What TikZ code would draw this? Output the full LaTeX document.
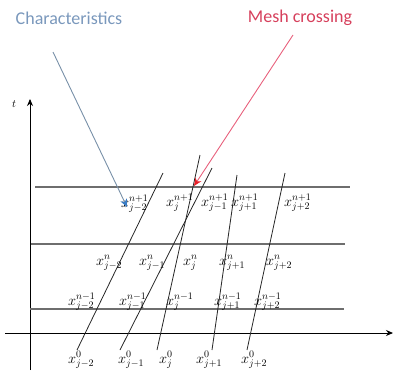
\documentclass[tikz,border=0pt]{standalone}
\usepackage{fontspec}
\newfontfamily\calib{Carlito}
\usetikzlibrary{arrows.meta}
\definecolor{chartext}{HTML}{7A98BC}
\definecolor{charline}{HTML}{7890A8}
\definecolor{charhead}{HTML}{3A7CC4}
\definecolor{meshtext}{HTML}{D6405C}
\definecolor{meshline}{HTML}{E8607C}
\definecolor{meshhead}{HTML}{E82028}
\definecolor{gridgray}{HTML}{6E6E6E}
\tikzset{
  lbl/.style={anchor=base west, inner sep=0pt, font=\fontsize{14}{16}\selectfont},
  title/.style={inner sep=0pt, font=\calib\fontsize{18}{20}\selectfont},
  axisline/.style={draw=black, line width=0.9pt, -{Stealth[length=7pt,width=6pt]}},
  gridline/.style={draw=gridgray, line width=1.2pt},
  charline/.style={draw=black!85, line width=0.8pt},
}
\begin{document}
\begin{tikzpicture}[x=1pt,y=-1pt]
\useasboundingbox (0,0) rectangle (393,370);
% titles
\node[title, text=chartext] (chart) at (69,18) {Characteristics};
\node[title, text=meshtext] (mesh) at (300,18) {Mesh crossing};
% axes
\coordinate (vbot) at (30,370);
\coordinate (vtop) at (30,99);
\coordinate (hleft) at (5,333);
\coordinate (hright) at (393,333);
\draw[axisline] (vbot) -- (vtop);
\draw[axisline] (hleft) -- (hright);
\node[inner sep=0pt, font=\fontsize{11}{13}\selectfont] (tlab) at (14,104) {$t$};
% grid lines
\coordinate (g1a) at (35,187); \coordinate (g1b) at (350,187);
\coordinate (g2a) at (31,244); \coordinate (g2b) at (345,244);
\coordinate (g3a) at (30,309); \coordinate (g3b) at (344,309);
\draw[gridline] (g1a) -- (g1b);
\draw[gridline] (g2a) -- (g2b);
\draw[gridline] (g3a) -- (g3b);
% characteristic lines
\coordinate (c1b) at (77,350);  \coordinate (c1t) at (163,173);
\coordinate (c2b) at (120,350); \coordinate (c2t) at (212,168);
\coordinate (c3b) at (157,350); \coordinate (c3t) at (200,155);
\coordinate (c4b) at (212,350); \coordinate (c4t) at (237,175);
\coordinate (c5b) at (247,350); \coordinate (c5t) at (285,173);
\draw[charline] (c1b) -- (c1t);
\draw[charline] (c2b) -- (c2t);
\draw[charline] (c3b) -- (c3t);
\draw[charline] (c4b) -- (c4t);
\draw[charline] (c5b) -- (c5t);
% labels row n+1
\node[lbl] (a1) at (121,207) {$x^{n+1}_{j-2}$};
\node[lbl] (a2) at (166,206) {$x^{n+1}_{j}$};
\node[lbl] (a3) at (201,206) {$x^{n+1}_{j-1}$};
\node[lbl] (a4) at (231,206) {$x^{n+1}_{j+1}$};
\node[lbl] (a5) at (284,206) {$x^{n+1}_{j+2}$};
% row n
\node[lbl] (b1) at (96,265) {$x^{n}_{j-2}$};
\node[lbl] (b2) at (139,265) {$x^{n}_{j-1}$};
\node[lbl] (b3) at (183,265) {$x^{n}_{j}$};
\node[lbl] (b4) at (219,265) {$x^{n}_{j+1}$};
\node[lbl] (b5) at (266,265) {$x^{n}_{j+2}$};
% row n-1
\node[lbl] (d1) at (68,305) {$x^{n-1}_{j-2}$};
\node[lbl] (d2) at (119,305) {$x^{n-1}_{j-1}$};
\node[lbl] (d3) at (166,305) {$x^{n-1}_{j}$};
\node[lbl] (d4) at (214,305) {$x^{n-1}_{j+1}$};
\node[lbl] (d5) at (254,305) {$x^{n-1}_{j+2}$};
% row 0
\node[lbl] (e1) at (68,363) {$x^{0}_{j-2}$};
\node[lbl] (e2) at (118,363) {$x^{0}_{j-1}$};
\node[lbl] (e3) at (159,363) {$x^{0}_{j}$};
\node[lbl] (e4) at (196,363) {$x^{0}_{j+1}$};
\node[lbl] (e5) at (241,363) {$x^{0}_{j+2}$};
% pointer arrows
\coordinate (bs) at (53,52);  \coordinate (be) at (127,207);
\coordinate (rs) at (293,35); \coordinate (re) at (194,186);
\draw[draw=charline, line width=0.9pt, -{Stealth[length=8pt,width=7pt,color=charhead]}] (bs) -- (be);
\draw[draw=meshline, line width=0.9pt, -{Stealth[length=8pt,width=7pt,color=meshhead]}] (rs) -- (re);
\end{tikzpicture}
\end{document}
